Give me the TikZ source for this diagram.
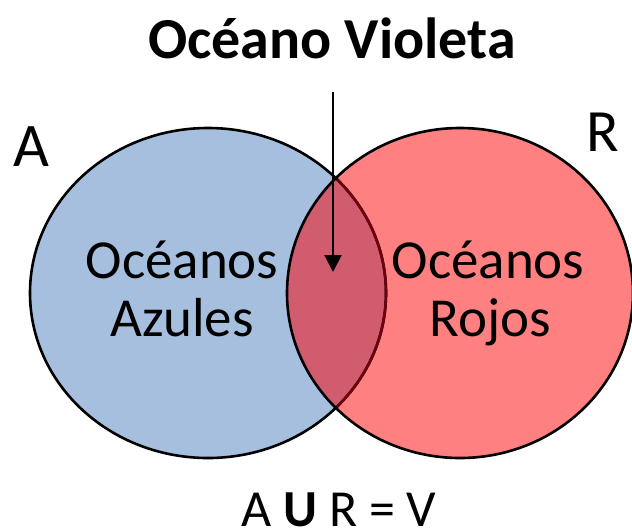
\documentclass[tikz,border=0pt]{standalone}
\usepackage{fontspec}
\setmainfont{Carlito}
\usetikzlibrary{arrows.meta}

\definecolor{azul}{RGB}{167,191,222}
\definecolor{rojo}{RGB}{255,128,128}
\definecolor{violeta}{RGB}{208,92,110}
\definecolor{bordeoscuro}{RGB}{112,0,12}

\tikzset{
  conjunto/.style={line width=2.6pt},
  etiqueta/.style={anchor=base, inner sep=0pt, font=\fontsize{55}{58}\selectfont},
}

\begin{document}
\begin{tikzpicture}[x=1pt, y=-1pt]
  \useasboundingbox (0,0) rectangle (632,531);

  \pgfmathsetmacro{\cy}{293}
  \pgfmathsetmacro{\ry}{165}

  % Circle A and circle R
  \fill[azul] (208,\cy) ellipse [x radius=178, y radius=\ry];
  \fill[rojo] (460,\cy) ellipse [x radius=173, y radius=\ry];

  % Overlap
  \begin{scope}
    \clip (208,\cy) ellipse [x radius=178, y radius=\ry];
    \fill[violeta] (460,\cy) ellipse [x radius=173, y radius=\ry];
  \end{scope}

  \draw[conjunto] (208,\cy) ellipse [x radius=178, y radius=\ry];
  \draw[conjunto] (460,\cy) ellipse [x radius=173, y radius=\ry];
  \begin{scope}
    \clip (460,\cy) ellipse [x radius=171, y radius=\ry-2];
    \draw[conjunto, bordeoscuro] (208,\cy) ellipse [x radius=178, y radius=\ry];
  \end{scope}

  % Labels
  \node[etiqueta, font=\fontsize{58}{60}\selectfont\bfseries] (titulo) at (332,58) {Océano Violeta};
  \node[etiqueta, font=\fontsize{62}{64}\selectfont] (A) at (31,166) {A};
  \node[etiqueta, font=\fontsize{60}{62}\selectfont] (R) at (603,151) {R};
  \node[etiqueta] (azules1) at (182,278) {Océanos};
  \node[etiqueta] (azules2) at (182,336) {Azules};
  \node[etiqueta] (rojos1) at (488,278) {Océanos};
  \node[etiqueta] (rojos2) at (490,336) {Rojos};
  \node[etiqueta, font=\fontsize{52}{54}\selectfont] (union) at (339,526) {A \textbf{U} R = V};

  % Arrow into the overlap
  \coordinate (flechainicio) at (333,92);
  \coordinate (flechafin) at (333,272);
  \draw[line width=2pt, -{Triangle[width=17pt, length=17pt]}] (flechainicio) -- (flechafin);

\end{tikzpicture}
\end{document}
